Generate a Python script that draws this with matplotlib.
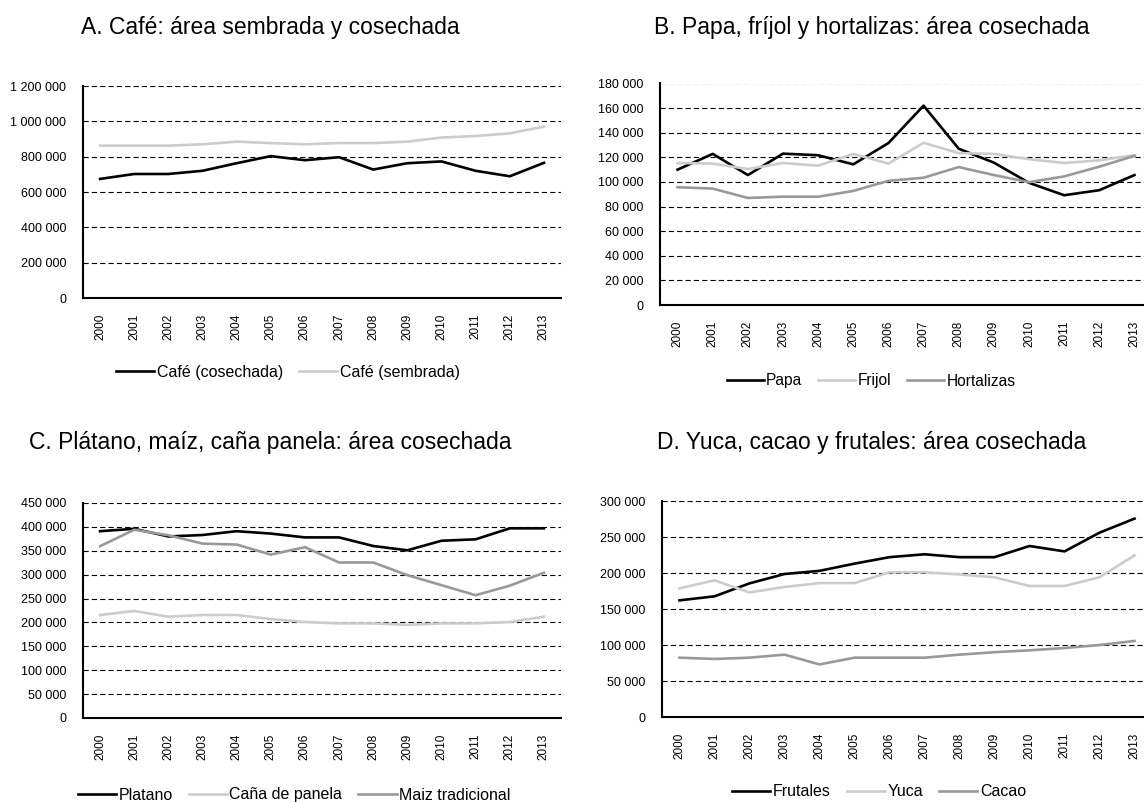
import matplotlib
matplotlib.use("Agg")
import matplotlib.pyplot as plt
from matplotlib.ticker import FuncFormatter

plt.rcParams['font.family'] = ['Liberation Sans', 'DejaVu Sans']

years = [str(y) for y in range(2000, 2014)]

# A. Café
cafe_cosechada = [674000, 702000, 702000, 720000, 763000, 803000, 780000,
                  797000, 727000, 763000, 773000, 720000, 689000, 765000]
cafe_sembrada = [862000, 862000, 862000, 870000, 885000, 877000, 870000,
                 877000, 877000, 885000, 908000, 917000, 932000, 970000]

# B. Papa, fríjol, hortalizas
papa = [110000, 122800, 105600, 123000, 121700, 114300, 131600,
        162000, 127000, 115700, 99300, 89200, 93300, 105600]
frijol = [115400, 114900, 110500, 115400, 113200, 122800, 114900,
          131800, 123400, 122800, 118500, 115400, 117600, 121700]
hortalizas = [95700, 94600, 87000, 88000, 88000, 92700, 100900,
              103400, 112100, 105600, 99800, 104500, 112400, 121200]

# C. Plátano, maíz, caña panela
platano = [391000, 396000, 380000, 383000, 391000, 386000, 378000,
           378000, 360000, 351000, 371000, 374000, 397000, 397000]
cana_panela = [215600, 224000, 212000, 215600, 215600, 207000, 201000,
               198000, 198000, 195000, 198000, 198000, 201000, 212000]
maiz_tradicional = [359600, 394000, 382500, 365000, 363000, 342000, 357500,
                    325500, 325500, 299000, 278000, 257000, 277000, 304000]

# D. Yuca, cacao, frutales
frutales = [162000, 167600, 185600, 198600, 203000, 213000, 222000,
            226000, 222000, 222000, 237500, 230000, 256000, 275500]
yuca = [178700, 189800, 173000, 180600, 186000, 186000, 201000,
        201000, 198000, 194000, 182000, 182000, 194000, 224500]
cacao = [82400, 80600, 82400, 86600, 73000, 82400, 82400,
         82400, 86600, 90000, 92600, 95800, 100000, 105600]

BLACK = '#000000'
LIGHT = '#cccccc'
MID = '#999999'

W, H = 1144, 802
fig = plt.figure(figsize=(W / 100, H / 100), dpi=100)


def px_axes(left, right, top, bottom):
    return fig.add_axes([left / W, 1 - bottom / H, (right - left) / W, (bottom - top) / H])


def thousands(v, pos):
    return f"{int(round(v)):,}".replace(",", " ")


def style_panel(ax, ymax, step):
    ax.set_xlim(-0.5, len(years) - 0.5)
    ax.set_ylim(0, ymax)
    ax.set_yticks(range(0, ymax + 1, step))
    ax.yaxis.set_major_formatter(FuncFormatter(thousands))
    ax.set_xticks(range(len(years)))
    ax.set_xticklabels(years, rotation=90)
    ax.tick_params(axis='y', length=0, pad=12, labelsize=9)
    ax.tick_params(axis='x', length=0, pad=11, labelsize=8.5)
    for s in ['top', 'right']:
        ax.spines[s].set_visible(False)
    for s in ['left', 'bottom']:
        ax.spines[s].set_linewidth(1.5)
        ax.spines[s].set_zorder(4)
    ax.grid(axis='y', color='black', linewidth=0.8, linestyle=(0, (4.7, 2.8)))
    ax.set_axisbelow(True)


def add_legend(ax, cx, cy, size=11.5):
    fig.legend(handles=ax.get_lines(), loc='center', bbox_to_anchor=(cx / W, 1 - cy / H),
               ncol=3, frameon=False, fontsize=size, handlelength=2.4,
               handletextpad=0.15, columnspacing=1.0)


def add_title(text, cx, baseline):
    fig.text(cx / W, 1 - baseline / H, text, ha='center', va='baseline', fontsize=16.5)


# Panel A
axA = px_axes(83, 561, 86, 298)
axA.plot(years, cafe_cosechada, color=BLACK, lw=1.9, label='Café (cosechada)')
axA.plot(years, cafe_sembrada, color=LIGHT, lw=1.9, label='Café (sembrada)')
style_panel(axA, 1200000, 200000)
add_legend(axA, 288, 372)
add_title('A. Café: área sembrada y cosechada', 270, 34)

# Panel B
axB = px_axes(660, 1152, 83.5, 305)
axB.plot(years, papa, color=BLACK, lw=1.9, label='Papa')
axB.plot(years, frijol, color=LIGHT, lw=1.9, label='Frijol')
axB.plot(years, hortalizas, color=MID, lw=1.9, label='Hortalizas')
style_panel(axB, 180000, 20000)
add_legend(axB, 871, 381, 11.2)
add_title('B. Papa, fríjol y hortalizas: área cosechada', 872, 34)

# Panel C
axC = px_axes(83, 561, 503, 718)
axC.plot(years, platano, color=BLACK, lw=1.9, label='Platano')
axC.plot(years, cana_panela, color=LIGHT, lw=1.9, label='Caña de panela')
axC.plot(years, maiz_tradicional, color=MID, lw=1.9, label='Maiz tradicional')
style_panel(axC, 450000, 50000)
add_legend(axC, 294, 795)
add_title('C. Plátano, maíz, caña panela: área cosechada', 270, 449)

# Panel D
axD = px_axes(662, 1152, 501, 717)
axD.plot(years, frutales, color=BLACK, lw=1.9, label='Frutales')
axD.plot(years, yuca, color=LIGHT, lw=1.9, label='Yuca')
axD.plot(years, cacao, color=MID, lw=1.9, label='Cacao')
style_panel(axD, 300000, 50000)
add_legend(axD, 879, 792)
add_title('D. Yuca, cacao y frutales: área cosechada', 872, 449)

fig.savefig('out.png', dpi=100)
